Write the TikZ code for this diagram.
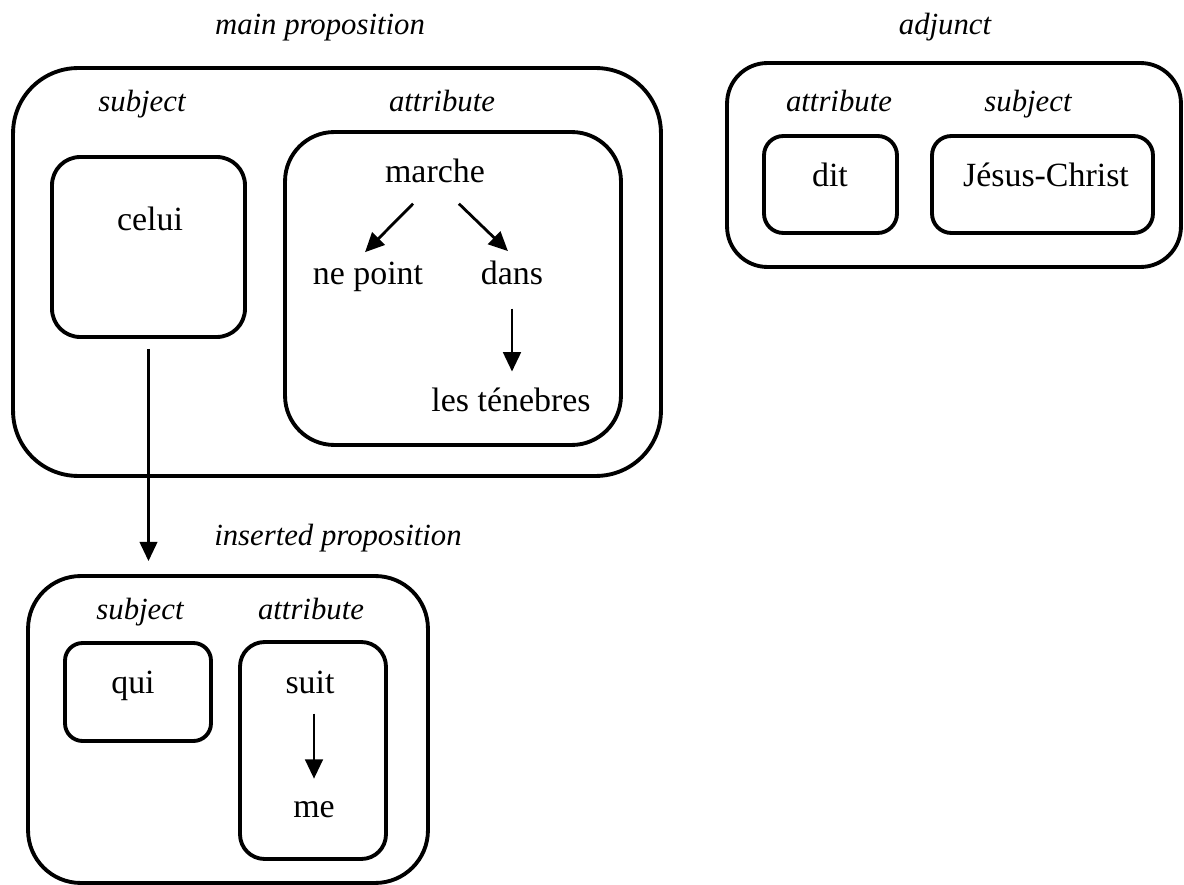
\documentclass[tikz,border=0pt]{standalone}
\usepackage{fontspec}
\setmainfont{Liberation Serif}
\usetikzlibrary{arrows.meta}

\begin{document}
\begin{tikzpicture}[x=0.02cm,y=-0.02cm,
 frm/.style={draw,line width=2.2pt,inner sep=0pt,rounded corners=#1},
 wd/.style={anchor=base,inner sep=2pt,font=\fontsize{19.3}{23}\selectfont},
 lb/.style={anchor=base,inner sep=2pt,font=\fontsize{17.5}{21}\selectfont\itshape},
 arw/.style={-{Triangle[length=11pt,width=10pt]},line width=1.6pt}]
\useasboundingbox (0,0) rectangle (1184,885);
% main proposition
\node[lb] (mainlbl) at (320,35) {main proposition};
\node[frm=37pt,minimum width=12.96cm,minimum height=8.16cm] (mainbox) at (337,272) {};
\node[lb] (subj1) at (142,112) {subject};
\node[lb] (attr1) at (442,112) {attribute};
\node[frm=16pt,minimum width=3.86cm,minimum height=3.6cm] (celuibox) at (148.5,247) {};
\node[wd] (celui) at (150,231) {celui};
\node[frm=28pt,minimum width=6.72cm,minimum height=6.26cm] (attrbox) at (453,288.5) {};
\node[wd] (marche) at (435,183) {marche};
\node[wd] (nepoint) at (368,285) {ne point};
\node[wd] (dans) at (512,285) {dans};
\node[wd] (tenebres) at (511,412) {les ténebres};
\draw[arw] ([xshift=-12.5pt,yshift=-9.4pt]marche.south) -- ([xshift=-1.7pt,yshift=3.7pt]nepoint.north);
\draw[arw] ([xshift=13.6pt,yshift=-9.4pt]marche.south) -- ([xshift=-2.3pt,yshift=3.7pt]dans.north);
\draw[arw,shorten <=11pt,shorten >=7.4pt] (dans.south) -- (dans.south |- tenebres.north);
% adjunct
\node[lb] (adjlbl) at (945,35) {adjunct};
\node[frm=23pt,minimum width=9.08cm,minimum height=4.08cm] (adjbox) at (954,165) {};
\node[lb] (attr3) at (839,112) {attribute};
\node[lb] (subj3) at (1028,112) {subject};
\node[frm=11pt,minimum width=2.66cm,minimum height=1.94cm] (ditbox) at (830.5,184.5) {};
\node[frm=11pt,minimum width=4.42cm,minimum height=1.94cm] (jcbox) at (1042.5,184.5) {};
\node[wd] (dit) at (830,187) {dit};
\node[wd] (jesus) at (1046,187) {Jésus-Christ};
% inserted proposition
\node[lb] (inslbl) at (338,545) {inserted proposition};
\node[frm=30pt,minimum width=8cm,minimum height=6.14cm] (insbox) at (228,729.5) {};
\node[lb] (subj2) at (140,619) {subject};
\node[lb] (attr2) at (311,619) {attribute};
\node[frm=10pt,minimum width=2.92cm,minimum height=1.96cm] (quibox) at (138,692) {};
\node[frm=14pt,minimum width=2.92cm,minimum height=4.34cm] (suitbox) at (313,750.5) {};
\node[wd] (qui) at (133,693) {qui};
\node[wd] (suit) at (310,693) {suit};
\node[wd] (me) at (314,817) {me};
\draw[arw,shorten <=9.4pt,shorten >=10.5pt] (me.north |- suit.south) -- (me.north);
\draw[arw,shorten <=5.7pt,shorten >=7.4pt] (celuibox.south) -- (celuibox.south |- insbox.north);
\end{tikzpicture}
\end{document}
